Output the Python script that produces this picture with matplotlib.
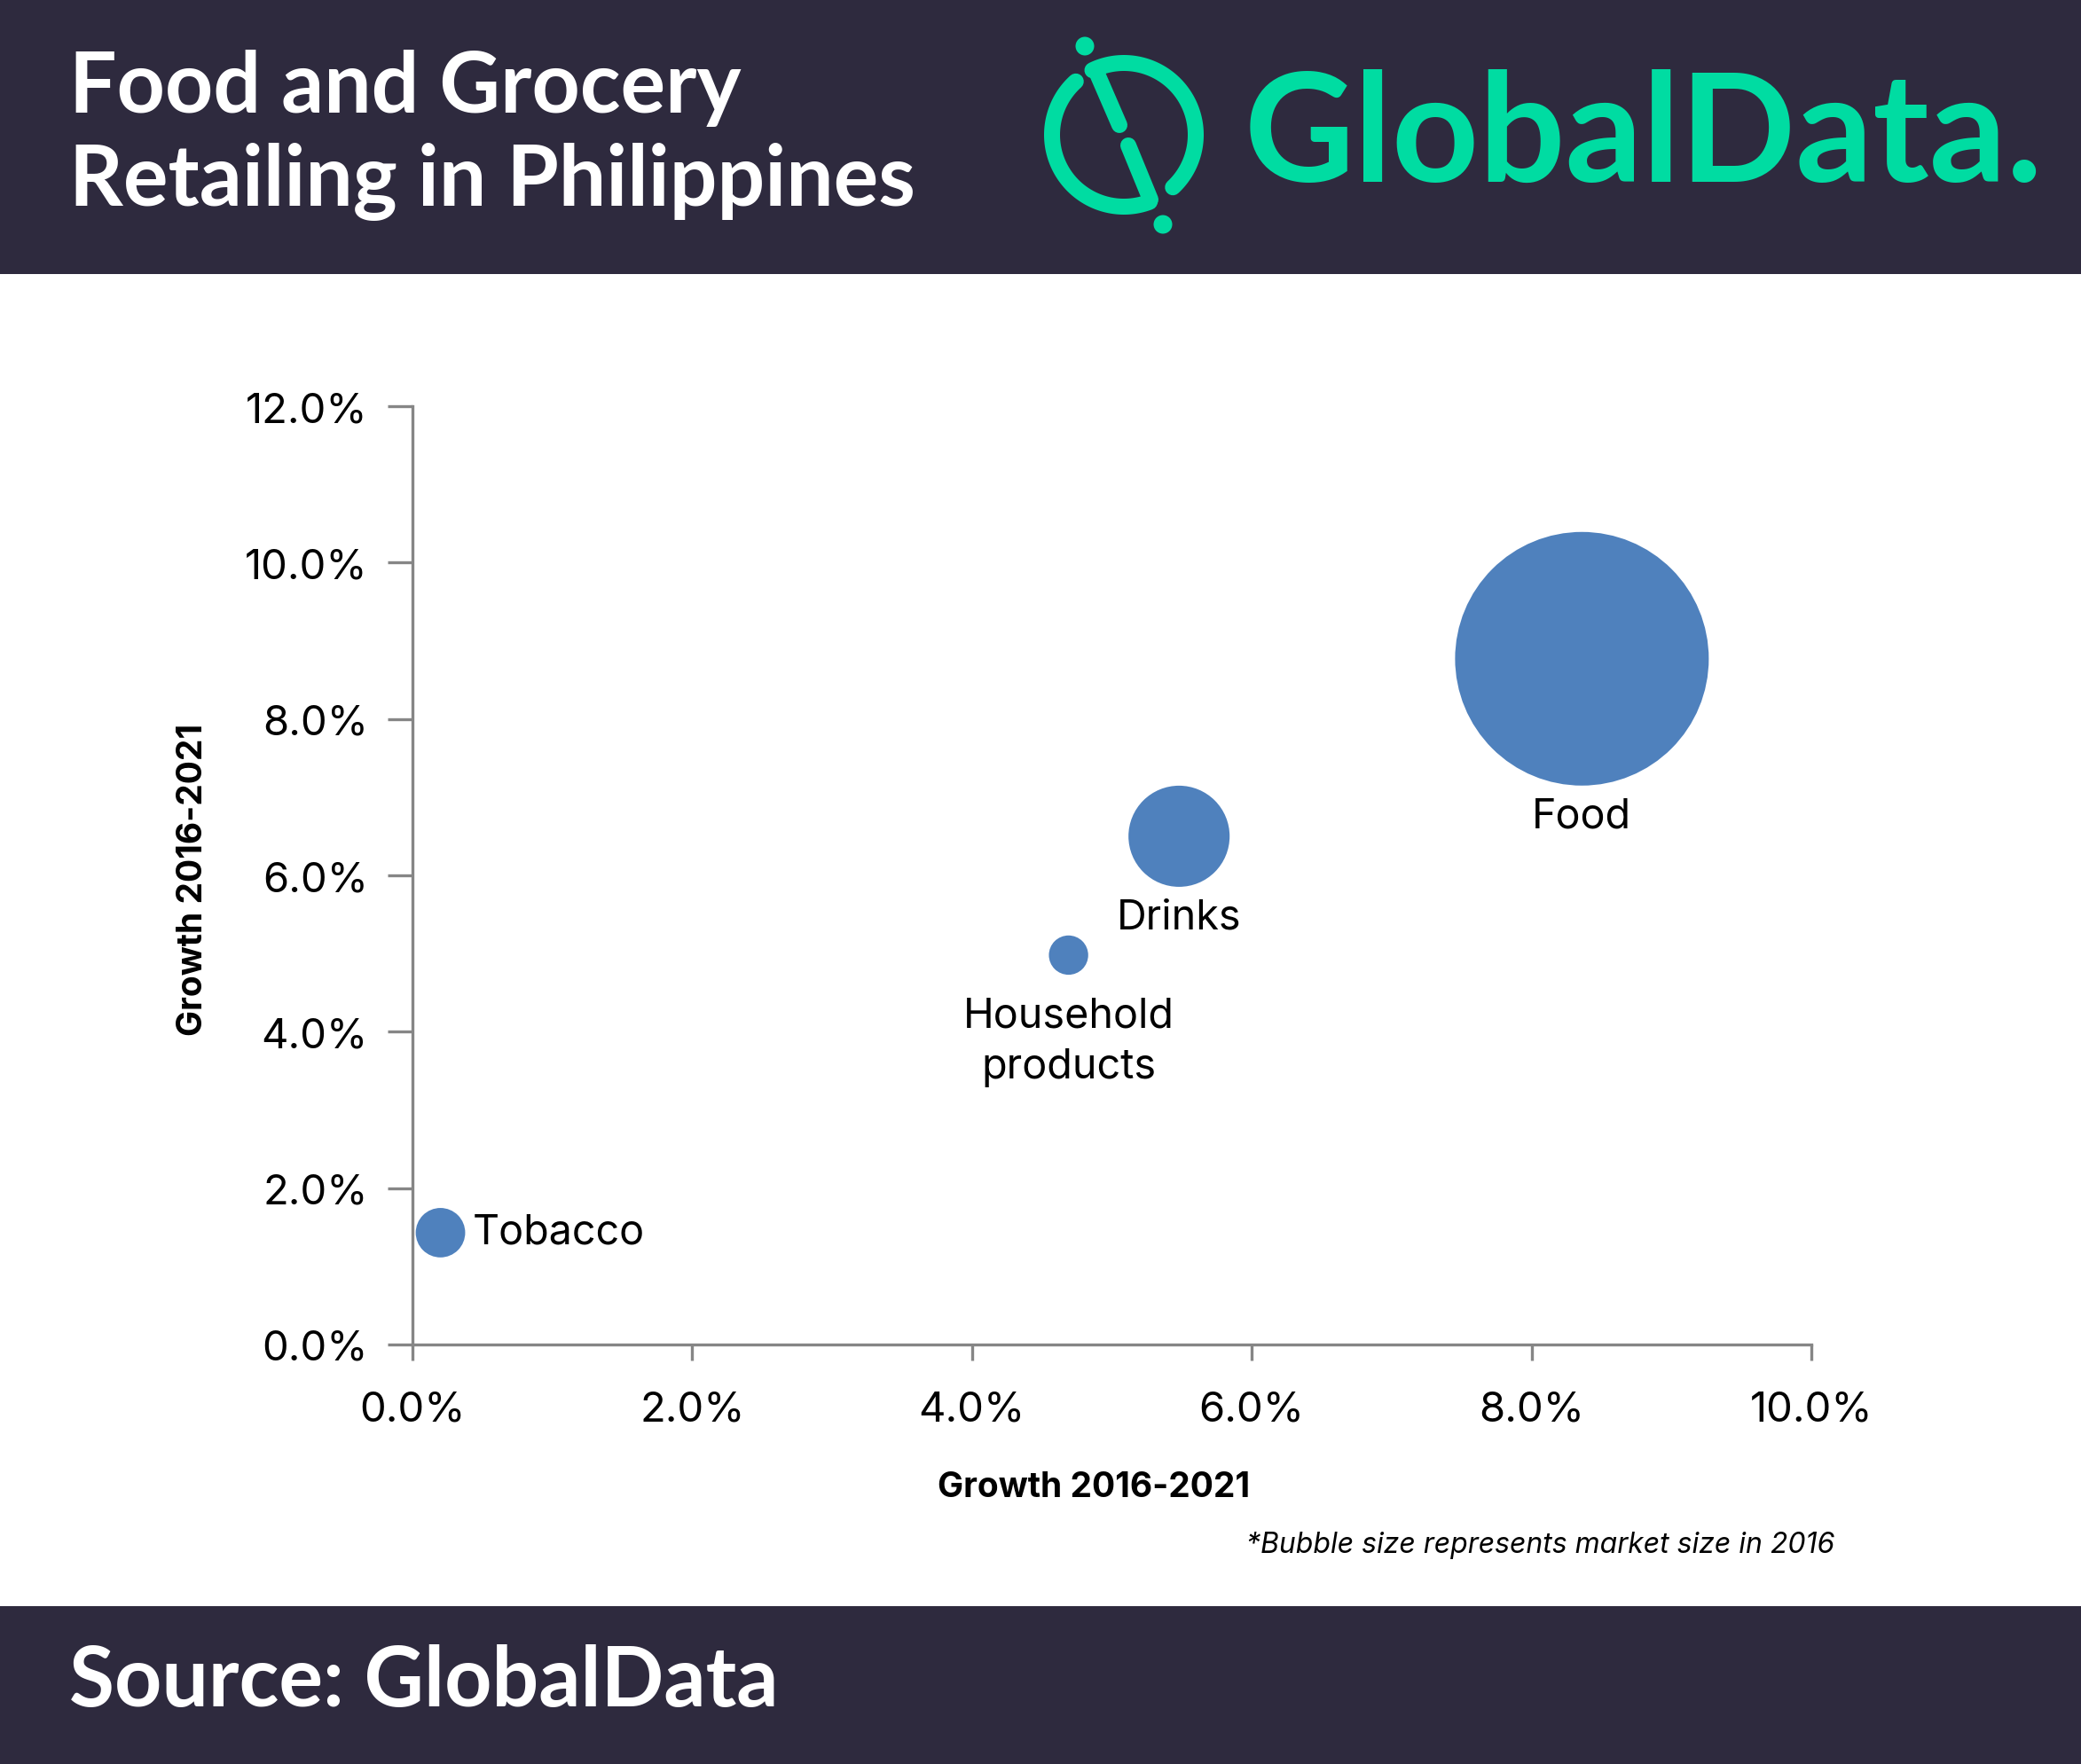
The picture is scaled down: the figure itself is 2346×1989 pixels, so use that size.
import matplotlib
matplotlib.use('Agg')
import matplotlib.pyplot as plt
import numpy as np
from matplotlib.ticker import FuncFormatter

# ---------------- data ----------------
categories = ['Tobacco', 'Household\nproducts', 'Drinks', 'Food']
growth_x = [0.20, 4.69, 5.48, 8.36]      # % growth (x axis)
growth_y = [1.43, 4.98, 6.50, 8.77]      # % growth (y axis)
market_size = [3.8, 2.4, 15.9, 100.0]    # relative market size 2016 (bubble area)
x_ticks = [0, 2, 4, 6, 8, 10]
y_ticks = [0, 2, 4, 6, 8, 10, 12]

title_lines = ['Food and Grocery', 'Retailing in Philippines']
x_label = 'Growth 2016-2021'
y_label = 'Growth 2016-2021'
footnote = '*Bubble size represents market size in 2016'
source = 'Source: GlobalData'
brand = 'GlobalData.'

# ---------------- style ----------------
W, H, DPI = 2346, 1990, 200
NAVY = '#2e2a3e'
GREEN = '#00dca2'
BLUE = '#4f81bd'
AXIS_GREY = '#868686'
plt.rcParams['font.family'] = ['Inter', 'DejaVu Sans']

fig = plt.figure(figsize=(W / DPI, H / DPI), dpi=DPI)
fig.patch.set_facecolor('white')

# overlay in pixel coordinates for banners/logo
ov = fig.add_axes([0, 0, 1, 1], zorder=0)
ov.set_xlim(0, W)
ov.set_ylim(H, 0)
ov.axis('off')
ov.add_patch(plt.Rectangle((0, 0), W, 310, color=NAVY, lw=0))
ov.add_patch(plt.Rectangle((0, 1812), W, H - 1812, color=NAVY, lw=0))

renderer = fig.canvas.get_renderer()

def fit_width(t, target):
    w = t.get_window_extent(renderer).width
    t.set_fontsize(t.get_fontsize() * target / w)

t1 = ov.text(78, 127, title_lines[0], color='white', fontsize=30, fontweight='bold',
             ha='left', va='baseline', family=['Lato', 'DejaVu Sans'])
t2 = ov.text(78, 232, title_lines[1], color='white', fontsize=30, fontweight='bold',
             ha='left', va='baseline', family=['Lato', 'DejaVu Sans'])
fit_width(t2, 955)
t1.set_fontsize(t2.get_fontsize())

ts = ov.text(78, 1924, source, color='white', fontsize=30, fontweight='bold',
             ha='left', va='baseline', family=['Lato', 'DejaVu Sans'])
fit_width(ts, 800)

tb = ov.text(1403, 205, brand, color=GREEN, fontsize=50, fontweight='bold',
             ha='left', va='baseline', family=['Lato', 'DejaVu Sans'])
fit_width(tb, 900)

# logo icon
cx, cy, R = 1267, 153, 81
lw_pt = 18 * 72 / DPI
def arc(a0, a1):
    a = np.radians(np.linspace(a0, a1, 120))
    return cx + R * np.cos(a), cy - R * np.sin(a)
xa, ya = arc(-47, 116)
ov.plot(xa, ya, color=GREEN, lw=lw_pt, solid_capstyle='round')
xa, ya = arc(132, 291)
ov.plot(xa, ya, color=GREEN, lw=lw_pt, solid_capstyle='round')
ov.plot([1236, 1262], [82, 142], color=GREEN, lw=lw_pt, solid_capstyle='round')
ov.plot([1272, 1297], [165, 226], color=GREEN, lw=lw_pt, solid_capstyle='round')
ov.add_patch(plt.Circle((1223, 53), 10.5, color=GREEN, lw=0))
ov.add_patch(plt.Circle((1311, 254), 10.5, color=GREEN, lw=0))

# ---------------- chart ----------------
ax = fig.add_axes([465 / W, 1 - 1517 / H, (2042 - 465) / W, (1517 - 459) / H], zorder=2)
ax.patch.set_alpha(0)
scale = 106.0
ax.scatter(growth_x, growth_y, s=[m * scale for m in market_size], color=BLUE,
           edgecolors='none', zorder=3, clip_on=False)

ax.set_xlim(0, 10)
ax.set_ylim(0, 12)
ax.set_xticks(x_ticks)
ax.set_yticks(y_ticks)
fmt = FuncFormatter(lambda v, p: f'{v:.1f}%')
ax.xaxis.set_major_formatter(fmt)
ax.yaxis.set_major_formatter(fmt)
for s in ['top', 'right']:
    ax.spines[s].set_visible(False)
for s in ['left', 'bottom']:
    ax.spines[s].set_color(AXIS_GREY)
    ax.spines[s].set_linewidth(1.2)
ax.tick_params(axis='y', length=28 * 72 / DPI, width=1.2, color=AXIS_GREY, pad=8,
               labelsize=17, labelcolor='black')
ax.tick_params(axis='x', length=18 * 72 / DPI, width=1.2, color=AXIS_GREY, pad=12,
               labelsize=17, labelcolor='black')

# data labels (offsets in points)
offsets = {
    'Tobacco': ((13, 0), 'left', 'center'),
    'Household\nproducts': ((0, -35), 'center', 'center'),
    'Drinks': ((0, -33), 'center', 'center'),
    'Food': ((0, -64), 'center', 'center'),
}
for c, xv, yv in zip(categories, growth_x, growth_y):
    off, ha, va = offsets[c]
    ax.annotate(c, (xv, yv), xytext=off, textcoords='offset points', ha=ha, va=va,
                fontsize=16.8, color='black', linespacing=1.4, zorder=4)

ov.text(1233, 1677, x_label, fontsize=14, fontweight='bold', ha='center', va='center',
        color='black')
ov.text(218, 992, y_label, fontsize=14, fontweight='bold', ha='center', va='center',
        rotation=90, color='black')
ov.text(2068, 1743, footnote, fontsize=11.5, fontstyle='italic', ha='right', va='center',
        color='black')

fig.savefig('out.png', dpi=DPI, facecolor='white')
